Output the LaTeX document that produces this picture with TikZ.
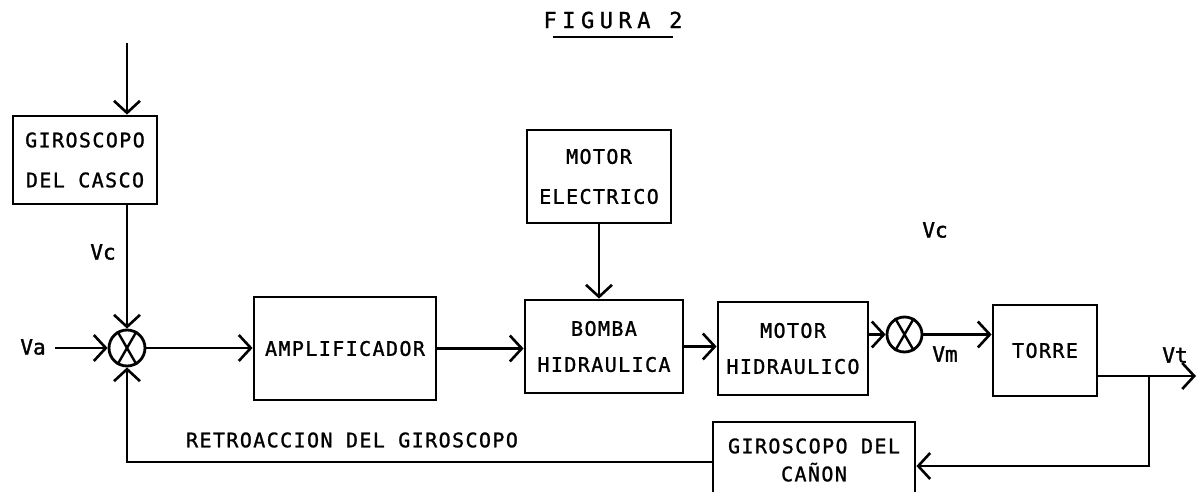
\documentclass[tikz,border=0pt]{standalone}
\usepackage{fontspec}
\newfontfamily\drw[LetterSpace=7,FakeBold=1.2]{DejaVu Sans Mono}
\newfontfamily\drwv[LetterSpace=0,FakeBold=1.6]{DejaVu Sans Mono}
\newfontfamily\drwt[LetterSpace=25,FakeBold=1.2]{DejaVu Sans Mono}
\usetikzlibrary{arrows.meta}
\begin{document}
\begin{tikzpicture}[x=0.5pt,y=-0.5pt,
  blk/.style={draw, line width=1.4pt, inner sep=0pt, align=center, font=\drw\fontsize{10}{20}\selectfont},
  blkb/.style={blk, font=\drw\fontsize{10}{18}\selectfont},
  sumj/.style={circle, draw, line width=1.4pt, inner sep=0pt},
  lbl/.style={font=\drw\fontsize{10}{11}\selectfont, inner sep=0pt},
  vlbl/.style={font=\drwv\fontsize{10.5}{11}\selectfont, inner sep=0pt},
  conn/.style={line width=1.3pt, -{Straight Barb[length=6pt,width=13pt,line width=1.3pt]}}]
\useasboundingbox (0,0) rectangle (1204,492);
% title
\node[font=\drwt\fontsize{11}{12}\selectfont, inner sep=0pt] (tit) at (613,20) {FIGURA 2};
\coordinate (ul1) at (553,37); \coordinate (ul2) at (673,37);
\draw[line width=1.4pt] (ul1) -- (ul2);
% blocks
\node[blk, minimum width=72pt, minimum height=44pt] (gc) at (85,160) {GIROSCOPO\\DEL CASCO};
\node[blk, minimum width=91pt, minimum height=51.5pt] (amp) at (345,348.5) {AMPLIFICADOR};
\node[blkb, minimum width=79pt, minimum height=46.5pt] (bomba) at (604,346.5) {BOMBA\\HIDRAULICA};
\node[blk, minimum width=72pt, minimum height=46.5pt] (me) at (599,176.5) {MOTOR\\ELECTRICO};
\node[blkb, minimum width=75pt, minimum height=46.5pt] (mh) at (793,348.5) {MOTOR\\HIDRAULICO};
\node[blk, minimum width=52pt, minimum height=45.5pt] (torre) at (1045,350.5) {TORRE};
\node[blk, minimum width=101pt, minimum height=38pt, font=\drw\fontsize{10}{14}\selectfont] (can) at (814,460) {GIROSCOPO DEL\\CA\~NON};
% summing junctions
\node[sumj, minimum size=18pt] (s1) at (127,348) {};
\draw[line width=1.2pt] (s1.60) -- (s1.240) (s1.120) -- (s1.300);
\node[sumj, minimum size=17.5pt] (s2) at (904.5,334.5) {};
\draw[line width=1.2pt] (s2.60) -- (s2.240) (s2.120) -- (s2.300);
% labels
\node[vlbl] (va) at (33,347) {Va};
\node[vlbl] (vc1) at (103,252) {Vc};
\node[vlbl] (vc2) at (935,230) {Vc};
\node[vlbl] (vm) at (945,354) {Vm};
\node[vlbl] (vt) at (1175,355) {Vt};
\node[lbl] (ret) at (352,440) {RETROACCION DEL GIROSCOPO};
% connectors
\coordinate (in) at (127,43);
\draw[conn] (in) -- (in |- gc.north);
\draw[conn] (gc.south -| s1) -- (s1.north);
\coordinate (vaS) at (55,348);
\draw[conn] (vaS) -- (s1.west);
\draw[conn] (s1.east) -- (s1.east -| amp.west);
\draw[conn] (amp.east) -- (amp.east -| bomba.west);
\draw[conn] (me.south) -- (me.south |- bomba.north);
\draw[conn] (bomba.east) -- (bomba.east -| mh.west);
\draw[conn] (mh.east |- s2) -- (s2.west);
\draw[conn] (s2.east) -- (s2.east -| torre.west);
\coordinate (br) at (1149,376);
\coordinate (out) at (1196,376);
\draw[conn] (torre.east |- br) -- (out);
\coordinate (brd) at (1149,466);
\draw[conn] (br) -- (brd) -- (brd -| can.east);
\coordinate (fb) at (127,462);
\draw[conn] (can.west |- fb) -- (fb) -- (s1.south);
\end{tikzpicture}
\end{document}
